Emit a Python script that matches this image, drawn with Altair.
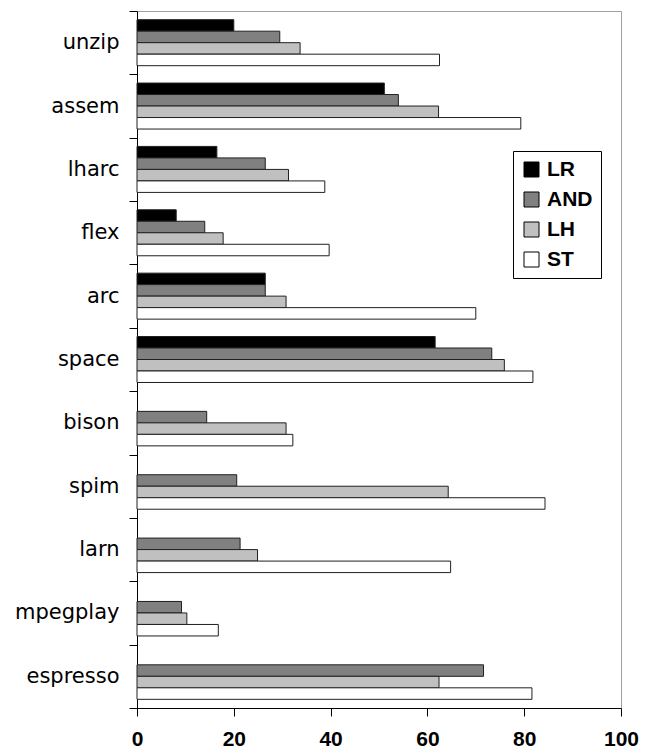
import altair as alt
import pandas as pd

categories = ["unzip", "assem", "lharc", "flex", "arc", "space", "bison",
              "spim", "larn", "mpegplay", "espresso"]
series = ["LR", "AND", "LH", "ST"]
LR = [20.0, 51.1, 16.5, 8.1, 26.5, 61.6, None, None, None, None, None]
AND = [29.5, 54.0, 26.5, 14.0, 26.5, 73.3, 14.4, 20.6, 21.3, 9.2, 71.6]
LH = [33.7, 62.3, 31.3, 17.8, 30.8, 75.9, 30.8, 64.3, 24.9, 10.3, 62.4]
ST = [62.5, 79.3, 38.8, 39.7, 70.0, 81.8, 32.2, 84.3, 64.8, 16.8, 81.6]
colors = ["#000000", "#808080", "#c0c0c0", "#ffffff"]
x_ticks = [0, 20, 40, 60, 80, 100]

rows = []
for name, vals in zip(series, [LR, AND, LH, ST]):
    for cat, v in zip(categories, vals):
        if v is not None:
            rows.append({"program": cat, "series": name, "value": v})
df = pd.DataFrame(rows)

bars = alt.Chart(df).mark_bar(stroke="#202020", strokeWidth=1).encode(
    x=alt.X("value:Q", scale=alt.Scale(domain=[0, 100], nice=False),
            axis=alt.Axis(values=x_ticks, title=None, grid=False,
                          labelFont="Liberation Sans", labelFontWeight="bold",
                          labelFontSize=21, labelColor="black", labelPadding=12,
                          tickSize=8, tickColor="black", domainColor="black",
                          labelFlush=False)),
    y=alt.Y("program:N", sort=categories,
            scale=alt.Scale(domain=categories, paddingInner=0, paddingOuter=0),
            axis=alt.Axis(title=None, grid=False, tickBand="extent",
                          labelFont="DejaVu Sans", labelFontSize=21,
                          labelColor="black", labelPadding=10, tickSize=8,
                          tickColor="black", domainColor="black")),
    yOffset=alt.YOffset("series:N", sort=series,
                        scale=alt.Scale(domain=series, paddingInner=0, paddingOuter=0.755)),
    fill=alt.Fill("series:N", sort=series,
                  scale=alt.Scale(domain=series, range=colors),
                  legend=alt.Legend(title=None, orient="none", legendX=376, legendY=140,
                                    symbolType="square", symbolSize=225,
                                    symbolStrokeColor="black", symbolStrokeWidth=1,
                                    labelFont="Liberation Sans", labelFontWeight="bold",
                                    labelFontSize=21, labelColor="black", labelOffset=5,
                                    strokeColor="black", fillColor="white",
                                    padding=8, rowPadding=8)),
)

chart = bars.properties(
    width=484, height=697,
    autosize="none",
    padding={"left": 129, "top": 3, "right": 25, "bottom": 44},
).configure_view(stroke="#a0a0a0", strokeWidth=1)

chart.save("out.html", embed_options={"renderer": "svg", "actions": False})
